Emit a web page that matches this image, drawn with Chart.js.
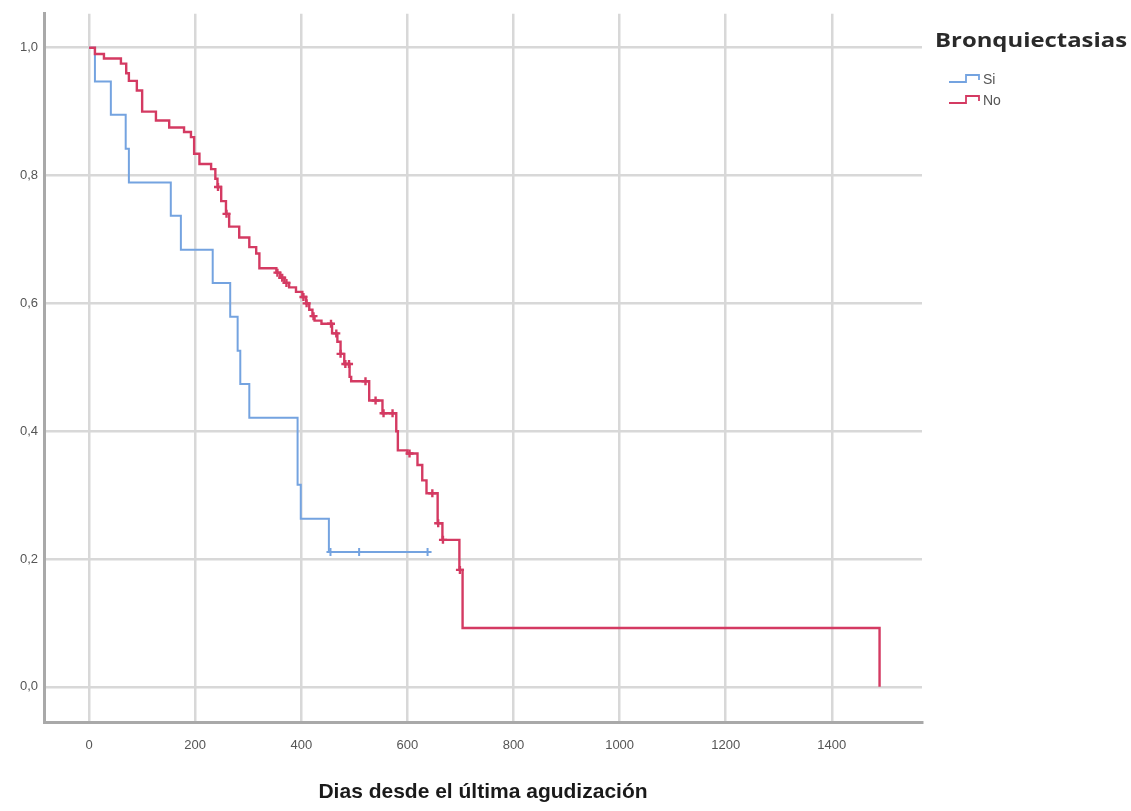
<!DOCTYPE html>
<html><head><meta charset="utf-8">
<script src="https://cdn.jsdelivr.net/npm/chart.js@4.4.0/dist/chart.umd.min.js"></script>
<style>html,body{margin:0;padding:0;background:#fff;}</style>
</head><body>
<canvas id="c" width="1131" height="811"></canvas>
<script>
// ---- data ----
const xTickValues = [0, 200, 400, 600, 800, 1000, 1200, 1400];
const xTickLabels = ["0", "200", "400", "600", "800", "1000", "1200", "1400"];
const yTickValues = [0, 0.2, 0.4, 0.6, 0.8, 1.0];
const yTickLabels = ["0,0", "0,2", "0,4", "0,6", "0,8", "1,0"];

const legendTitle = "Bronquiectasias";
const seriesNames = ["Si", "No"];
const xTitle = "Dias desde el última agudización";

// Si group: event times (days) and survival after each step
const siTimes = [0, 11, 41, 69, 75, 154, 173, 233, 266, 280, 285, 302, 393, 399, 452, 638];
const siSurv  = [1, 0.947, 0.895, 0.842, 0.789, 0.737, 0.684, 0.632, 0.579, 0.526, 0.474, 0.421, 0.316, 0.263, 0.211, 0.211];
const siCensor = [455, 509, 638];

// No group
const noTimes = [0, 11, 28, 60, 70, 75, 90, 100, 126, 151, 179, 192, 198, 208, 230, 238, 242, 249, 258, 264,
  283, 302, 315, 321, 353, 360, 368, 377, 390, 402, 409, 415, 421, 425, 438, 458, 468, 474, 481, 491,
  494, 528, 553, 579, 582, 600, 619, 628, 636, 657, 666, 698, 704, 1490];
const noSurv  = [1, 0.99, 0.983, 0.975, 0.96, 0.948, 0.933, 0.90, 0.886, 0.875, 0.868, 0.86, 0.834, 0.818, 0.81, 0.795, 0.782, 0.76, 0.74, 0.72,
  0.703, 0.688, 0.678, 0.655, 0.648, 0.64, 0.632, 0.625, 0.618, 0.61, 0.60, 0.59, 0.58, 0.573, 0.568, 0.553, 0.54, 0.521, 0.505, 0.485,
  0.478, 0.448, 0.428, 0.40, 0.37, 0.365, 0.347, 0.323, 0.303, 0.256, 0.23, 0.183, 0.092, 0];
const noCensor = [243, 259, 355, 364, 372, 404, 410, 423, 456, 466, 474, 483, 490, 521, 540, 555, 572, 604, 647, 658, 667, 699];

// ---- helpers ----
function stepValue(times, surv, t) {
  let v = surv[0];
  for (let i = 0; i < times.length; i++) { if (times[i] <= t) v = surv[i]; }
  return v;
}
const toPts = (ts, ss) => ts.map((t, i) => ({x: t, y: ss[i]}));
const censorPts = (cs, ts, ss) => cs.map(t => ({x: t, y: stepValue(ts, ss, t)}));

const BLUE = '#74a3e0';
const RED = '#d43a62';
const TICKFONT = {family: "'Liberation Sans', Arial, sans-serif", size: 13};

const legendPlugin = {
  id: 'kmLegend',
  afterDraw(chart) {
    const ctx = chart.ctx;
    ctx.save();
    ctx.fillStyle = '#2a2a2a';
    ctx.font = "bold 20px 'Open Sans', 'Liberation Sans', sans-serif";
    ctx.textBaseline = 'middle';
    ctx.textAlign = 'left';
    const w = ctx.measureText(legendTitle).width;
    const target = 192;
    ctx.translate(935, 41);
    ctx.scale(target / w, 1);
    ctx.fillText(legendTitle, 0, 0);
    ctx.restore();

    const items = [{name: seriesNames[0], color: BLUE, y: 79}, {name: seriesNames[1], color: RED, y: 100}];
    items.forEach(it => {
      ctx.save();
      ctx.strokeStyle = it.color;
      ctx.lineWidth = 1.8;
      ctx.beginPath();
      ctx.moveTo(949, it.y + 3);
      ctx.lineTo(966, it.y + 3);
      ctx.lineTo(966, it.y - 4);
      ctx.lineTo(979, it.y - 4);
      ctx.lineTo(979, it.y + 1);
      ctx.stroke();
      ctx.fillStyle = '#555';
      ctx.font = "14px 'Liberation Sans', Arial, sans-serif";
      ctx.textBaseline = 'middle';
      ctx.fillText(it.name, 983, it.y + 1);
      ctx.restore();
    });
  }
};

new Chart(document.getElementById('c'), {
  type: 'line',
  data: {
    datasets: [
      {label: seriesNames[1], data: toPts(noTimes, noSurv), stepped: true, borderColor: RED, borderWidth: 2.4,
       pointRadius: 0, fill: false, order: 1},
      {label: seriesNames[1] + ' censored', data: censorPts(noCensor, noTimes, noSurv), showLine: false,
       pointStyle: 'cross', pointRadius: 4, pointBorderWidth: 2.4, pointBorderColor: RED, borderColor: RED, order: 0},
      {label: seriesNames[0], data: toPts(siTimes, siSurv), stepped: true, borderColor: BLUE, borderWidth: 2,
       pointRadius: 0, fill: false, order: 3},
      {label: seriesNames[0] + ' censored', data: censorPts(siCensor, siTimes, siSurv), showLine: false,
       pointStyle: 'cross', pointRadius: 4, pointBorderWidth: 2, pointBorderColor: BLUE, borderColor: BLUE, order: 2}
    ]
  },
  options: {
    responsive: false,
    animation: false,
    layout: {padding: {top: 13, right: 209, left: 0, bottom: 0}},
    plugins: {legend: {display: false}, tooltip: {enabled: false}},
    scales: {
      x: {
        type: 'linear', min: -85, max: 1570,
        afterBuildTicks: s => { s.ticks = xTickValues.map(v => ({value: v})); },
        afterFit: s => { s.height = 89; },
        ticks: {callback: (v, i) => xTickLabels[i], color: '#555', font: TICKFONT, padding: 16, maxRotation: 0},
        grid: {color: '#d8d8d8', lineWidth: 2.5, drawTicks: false},
        border: {display: true, color: '#a9a9a9', width: 3},
        title: {display: true, text: xTitle, color: '#1a1a1a',
                font: {family: "'Liberation Sans', Arial, sans-serif", size: 21, weight: 'bold'},
                padding: {top: 0, bottom: 6}}
      },
      y: {
        type: 'linear', min: -0.055, max: 1.053,
        afterBuildTicks: s => { s.ticks = yTickValues.map(v => ({value: v})); },
        afterFit: s => { s.width = 44; },
        ticks: {callback: (v, i) => yTickLabels[i], color: '#555', font: TICKFONT, padding: 6},
        grid: {color: '#d8d8d8', lineWidth: 2.5, drawTicks: false},
        border: {display: true, color: '#a9a9a9', width: 3}
      }
    }
  },
  plugins: [legendPlugin]
});
</script>
</body></html>
